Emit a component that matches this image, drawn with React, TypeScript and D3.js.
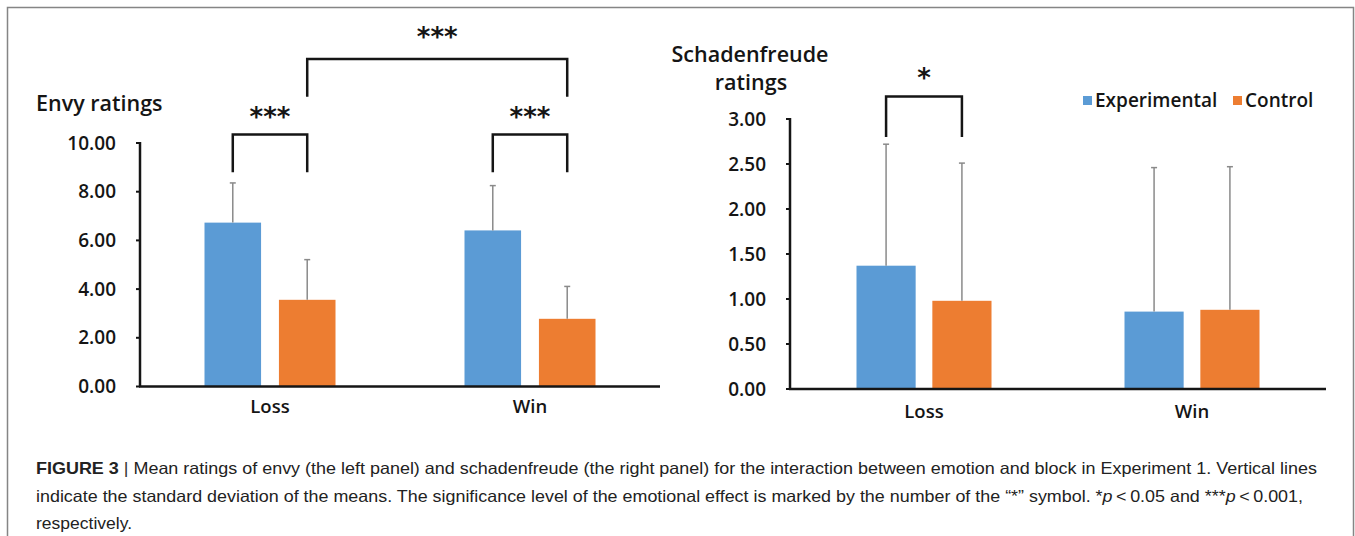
import React from "react";
import * as d3 from "d3";

const CATEGORIES = ["Loss", "Win"];
const SERIES = ["Experimental", "Control"];
const COLORS = ["#5B9BD5", "#ED7D31"];

// envy panel
const ENVY_TICKS = [0, 2, 4, 6, 8, 10];
const ENVY_EXP = [6.73, 6.41];
const ENVY_CTRL = [3.56, 2.78];
const ENVY_SD_EXP = [1.63, 1.84];
const ENVY_SD_CTRL = [1.65, 1.33];

// schadenfreude panel
const SCH_TICKS = [0, 0.5, 1, 1.5, 2, 2.5, 3];
const SCH_EXP = [1.37, 0.86];
const SCH_CTRL = [0.98, 0.88];
const SCH_SD_EXP = [1.35, 1.6];
const SCH_SD_CTRL = [1.53, 1.59];

const FONT = "'Open Sans', Lato, sans-serif";
const STAR_FONT = "'DejaVu Sans', sans-serif";
const INK = "#151515";

interface PanelProps {
  x0: number; x1: number; yTop: number; yBottom: number;
  domainMax: number; ticks: number[];
  exp: number[]; ctrl: number[]; sdExp: number[]; sdCtrl: number[];
  groupHalf: number; gapRatio: number; labelY: number;
  brackets: { from: [number, number]; to: [number, number]; topVal: number; legVal: number; label: string; lift: number }[];
}

const Panel: React.FC<PanelProps> = p => {
  const x = d3.scaleBand<string>().domain(CATEGORIES).range([p.x0, p.x1]).padding(0);
  const inner = d3.scaleBand<string>().domain(SERIES).range([-p.groupHalf, p.groupHalf]).paddingInner(p.gapRatio).paddingOuter(0);
  const y = d3.scaleLinear().domain([0, p.domainMax]).range([p.yBottom, p.yTop]);
  const vals = [p.exp, p.ctrl];
  const sds = [p.sdExp, p.sdCtrl];
  const barCenter = (ci: number, si: number) =>
    x(CATEGORIES[ci])! + x.bandwidth() / 2 + inner(SERIES[si])! + inner.bandwidth() / 2;

  return (
    <g>
      {/* bars */}
      {SERIES.map((s, si) => CATEGORIES.map((c, ci) => (
        <rect key={s + c}
          x={x(c)! + x.bandwidth() / 2 + inner(s)!}
          y={y(vals[si][ci])}
          width={inner.bandwidth()}
          height={y(0) - y(vals[si][ci])}
          fill={COLORS[si]} />
      )))}
      {/* error bars (SD) */}
      {SERIES.map((s, si) => CATEGORIES.map((c, ci) => {
        const cx = barCenter(ci, si);
        const yt = y(vals[si][ci] + sds[si][ci]);
        return (
          <g key={"e" + s + c} stroke="#8a8a8a" strokeWidth={1.5}>
            <line x1={cx} x2={cx} y1={y(vals[si][ci])} y2={yt} />
            <line x1={cx - 3} x2={cx + 3} y1={yt} y2={yt} />
          </g>
        );
      }))}
      {/* y axis */}
      <line x1={p.x0} x2={p.x0} y1={p.yTop - 1} y2={p.yBottom} stroke={INK} strokeWidth={2.5} />
      {p.ticks.map(t => (
        <g key={t}>
          <line x1={p.x0 - 4} x2={p.x0} y1={y(t)} y2={y(t)} stroke={INK} strokeWidth={2} />
          <text x={p.x0 - 24} y={y(t)} dy="0.35em" textAnchor="end" fontSize={19} fontWeight={600}
            fontFamily={FONT} fill={INK}>{t.toFixed(2)}</text>
        </g>
      ))}
      {/* x axis */}
      <line x1={p.x0 - 1} x2={p.x1} y1={p.yBottom} y2={p.yBottom} stroke={INK} strokeWidth={2.5} />
      {CATEGORIES.map(c => (
        <text key={c} x={x(c)! + x.bandwidth() / 2} y={p.labelY} textAnchor="middle" fontSize={18.5}
          fontWeight={600} fontFamily={FONT} fill={INK}>{c}</text>
      ))}
      {/* significance brackets */}
      {p.brackets.map((b, i) => {
        const xa = barCenter(b.from[0], b.from[1]);
        const xb = barCenter(b.to[0], b.to[1]);
        const yt = y(b.topVal);
        const yl = y(b.legVal);
        return (
          <g key={i}>
            <path d={`M${xa},${yl}V${yt}H${xb}V${yl}`} fill="none" stroke={INK} strokeWidth={2.5} />
            <text x={(xa + xb) / 2} y={yt - b.lift} textAnchor="middle" fontSize={26} fontWeight={700}
              fontFamily={STAR_FONT} fill={INK}>{b.label}</text>
          </g>
        );
      })}
    </g>
  );
};

const App: React.FC = () => {
  return (
    <svg width={1355} height={536} style={{ position: "absolute", left: 0, top: 0, background: "#fff" }}>
      <rect x={7.5} y={7.5} width={1346} height={560} fill="#fff" stroke="#858585" strokeWidth={1.5} />

      <text x={36} y={111} fontSize={21.5} fontWeight={600} fontFamily={FONT} fill={INK}>Envy ratings</text>
      <Panel x0={140} x1={660} yTop={143} yBottom={386.5} domainMax={10} ticks={ENVY_TICKS}
        exp={ENVY_EXP} ctrl={ENVY_CTRL} sdExp={ENVY_SD_EXP} sdCtrl={ENVY_SD_CTRL}
        groupHalf={65.5} gapRatio={0.24} labelY={413}
        brackets={[
          { from: [0, 0], to: [0, 1], topVal: 10.35, legVal: 8.8, label: "***", lift: 8.5 },
          { from: [1, 0], to: [1, 1], topVal: 10.35, legVal: 8.8, label: "***", lift: 8.5 },
          { from: [0, 1], to: [1, 1], topVal: 13.45, legVal: 11.9, label: "***", lift: 12.5 },
        ]} />

      <text x={750} y={62} textAnchor="middle" fontSize={21.5} fontWeight={600} fontFamily={FONT} fill={INK}>Schadenfreude</text>
      <text x={751} y={90} textAnchor="middle" fontSize={21.5} fontWeight={600} fontFamily={FONT} fill={INK}>ratings</text>
      <Panel x0={790} x1={1326} yTop={119} yBottom={389} domainMax={3} ticks={SCH_TICKS}
        exp={SCH_EXP} ctrl={SCH_CTRL} sdExp={SCH_SD_EXP} sdCtrl={SCH_SD_CTRL}
        groupHalf={67.5} gapRatio={0.22} labelY={418}
        brackets={[{ from: [0, 0], to: [0, 1], topVal: 3.25, legVal: 2.8, label: "*", lift: 9.5 }]} />

      {/* legend */}
      {SERIES.map((s, i) => {
        const lx = [1083, 1233][i];
        return (
          <g key={s}>
            <rect x={lx} y={96} width={9} height={9} fill={COLORS[i]} />
            <text x={lx + 12} y={107} fontSize={19} fontWeight={600} fontFamily={FONT} fill={INK}>{s}</text>
          </g>
        );
      })}

      {/* caption */}
      <g fontFamily="'Liberation Sans', Arial, sans-serif" fontSize={16.5} fill="#222">
        <text x={36} y={474} textLength={1281} lengthAdjust="spacingAndGlyphs">
          <tspan fontWeight={700}>FIGURE 3</tspan>
          <tspan fill="#333">{"  |  "}</tspan>
          <tspan>Mean ratings of envy (the left panel) and schadenfreude (the right panel) for the interaction between emotion and block in Experiment 1. Vertical lines</tspan>
        </text>
        <text x={36} y={502} textLength={1267} lengthAdjust="spacingAndGlyphs">
          indicate the standard deviation of the means. The significance level of the emotional effect is marked by the number of the “*” symbol. *<tspan fontStyle="italic">p</tspan>{"\u2009<\u20090.05 and ***"}<tspan fontStyle="italic">p</tspan>{"\u2009<\u20090.001,"}
        </text>
        <text x={36} y={529} textLength={96} lengthAdjust="spacingAndGlyphs">respectively.</text>
      </g>
    </svg>
  );
};

export default App;
